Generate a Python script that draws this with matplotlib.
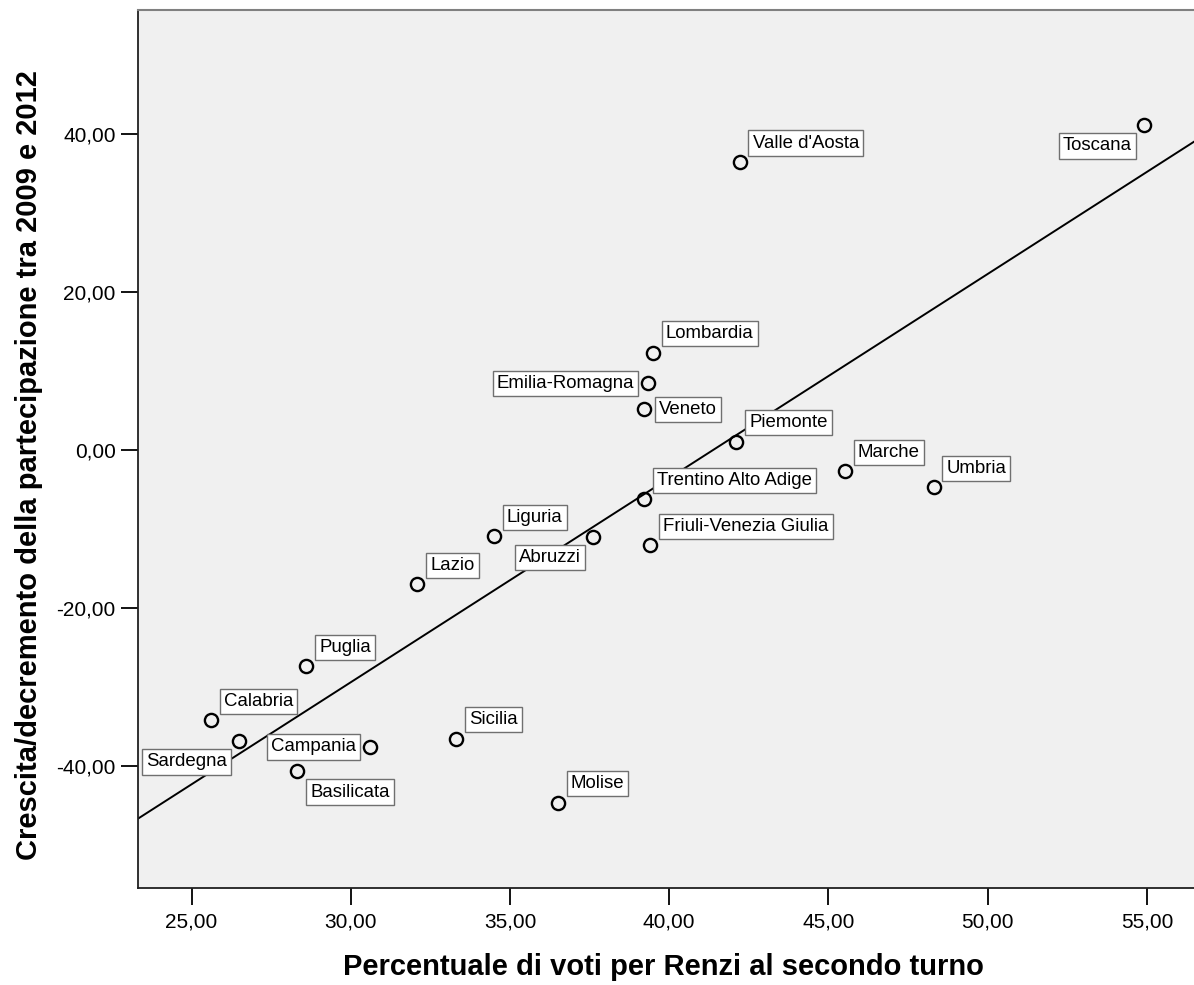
import numpy as np
import matplotlib
matplotlib.use("Agg")
import matplotlib.pyplot as plt
from matplotlib.ticker import FuncFormatter

# --- dati ---
regioni = ["Toscana", "Valle d'Aosta", "Lombardia", "Emilia-Romagna", "Veneto",
           "Piemonte", "Marche", "Umbria", "Trentino Alto Adige",
           "Friuli-Venezia Giulia", "Abruzzi", "Liguria", "Lazio", "Puglia",
           "Calabria", "Sardegna", "Campania", "Basilicata", "Sicilia", "Molise"]
voti_renzi = [54.91, 42.21, 39.49, 39.33, 39.20, 42.10, 45.51, 48.30, 39.20,
              39.41, 37.61, 34.49, 32.09, 28.60, 25.60, 26.50, 30.60, 28.30,
              33.30, 36.50]
crescita = [41.08, 36.39, 12.25, 8.38, 5.09, 0.99, -2.72, -4.78, -6.30,
            -12.09, -11.04, -10.95, -17.03, -27.41, -34.24, -36.86, -37.62,
            -40.66, -36.56, -44.66]
x_ticks = [25, 30, 35, 40, 45, 50, 55]
y_ticks = [-40, -20, 0, 20, 40]

# posizione etichette rispetto al punto
POS = {"Toscana": "ll", "Emilia-Romagna": "l", "Veneto": "r", "Abruzzi": "ll",
       "Sardegna": "ll", "Campania": "l", "Basilicata": "lr"}
PT = 0.72  # px -> pt a 100 dpi
OFFS = {"ur": ((9 + 4) * PT, (6.5 + 4) * PT, "left", "bottom"),
        "ll": (-(8 + 4) * PT, -(8.5 + 4) * PT, "right", "top"),
        "l": (-(9.5 + 4) * PT, 0, "right", "center"),
        "r": ((11 + 4) * PT, 0, "left", "center"),
        "lr": ((9.5 + 4) * PT, -(8.6 + 4) * PT, "left", "top")}

plt.rcParams['font.family'] = ['Liberation Sans', 'DejaVu Sans']

fig = plt.figure(figsize=(11.94, 9.85), dpi=100)
ax = fig.add_axes([138 / 1194, 1 - 888 / 985, 1 - 138 / 1194, (888 - 10) / 985])
ax.set_facecolor("#f0f0f0")
ax.set_xlim(23.32, 56.48)
ax.set_ylim(-55.47, 55.63)

# retta di regressione
b, a = np.polyfit(voti_renzi, crescita, 1)
xl = np.array(ax.get_xlim())
ax.plot(xl, a + b * xl, color="black", linewidth=1.4, zorder=2)

ax.plot(voti_renzi, crescita, linestyle="none", marker="o", markersize=9.5,
        markerfacecolor="none", markeredgecolor="black", markeredgewidth=1.7, zorder=3)

for nome, xv, yv in zip(regioni, voti_renzi, crescita):
    dx, dy, ha, va = OFFS[POS.get(nome, "ur")]
    ax.annotate(nome, (xv, yv), xytext=(dx, dy), textcoords="offset points",
                ha=ha, va=va, fontsize=13.4, color="black", zorder=4,
                bbox=dict(boxstyle="square,pad=0.22", facecolor="white",
                          edgecolor="#707070", linewidth=1.0))

fmt = FuncFormatter(lambda v, p: f"{v:.2f}".replace(".", ","))
ax.set_xticks(x_ticks)
ax.set_yticks(y_ticks)
ax.xaxis.set_major_formatter(fmt)
ax.yaxis.set_major_formatter(fmt)
ax.tick_params(axis="both", direction="out", length=12.5, width=1.3,
               labelsize=15, colors="black")
ax.tick_params(axis="x", pad=5.5)
ax.tick_params(axis="y", pad=3.5)

ax.spines["right"].set_visible(False)
ax.spines["top"].set_color("#808080")
ax.spines["top"].set_linewidth(1.5)
for s in ["left", "bottom"]:
    ax.spines[s].set_color("#202020")
    ax.spines[s].set_linewidth(1.3)

fig.text(663 / 1194, 10 / 985, "Percentuale di voti per Renzi al secondo turno",
         ha="center", va="baseline", fontsize=21, fontweight="bold")
fig.text(29 / 1194, 1 - 465 / 985,
         "Crescita/decremento della partecipazione tra 2009 e 2012",
         ha="center", va="center", rotation=90, fontsize=21, fontweight="bold")

fig.savefig("out.png", dpi=100)
